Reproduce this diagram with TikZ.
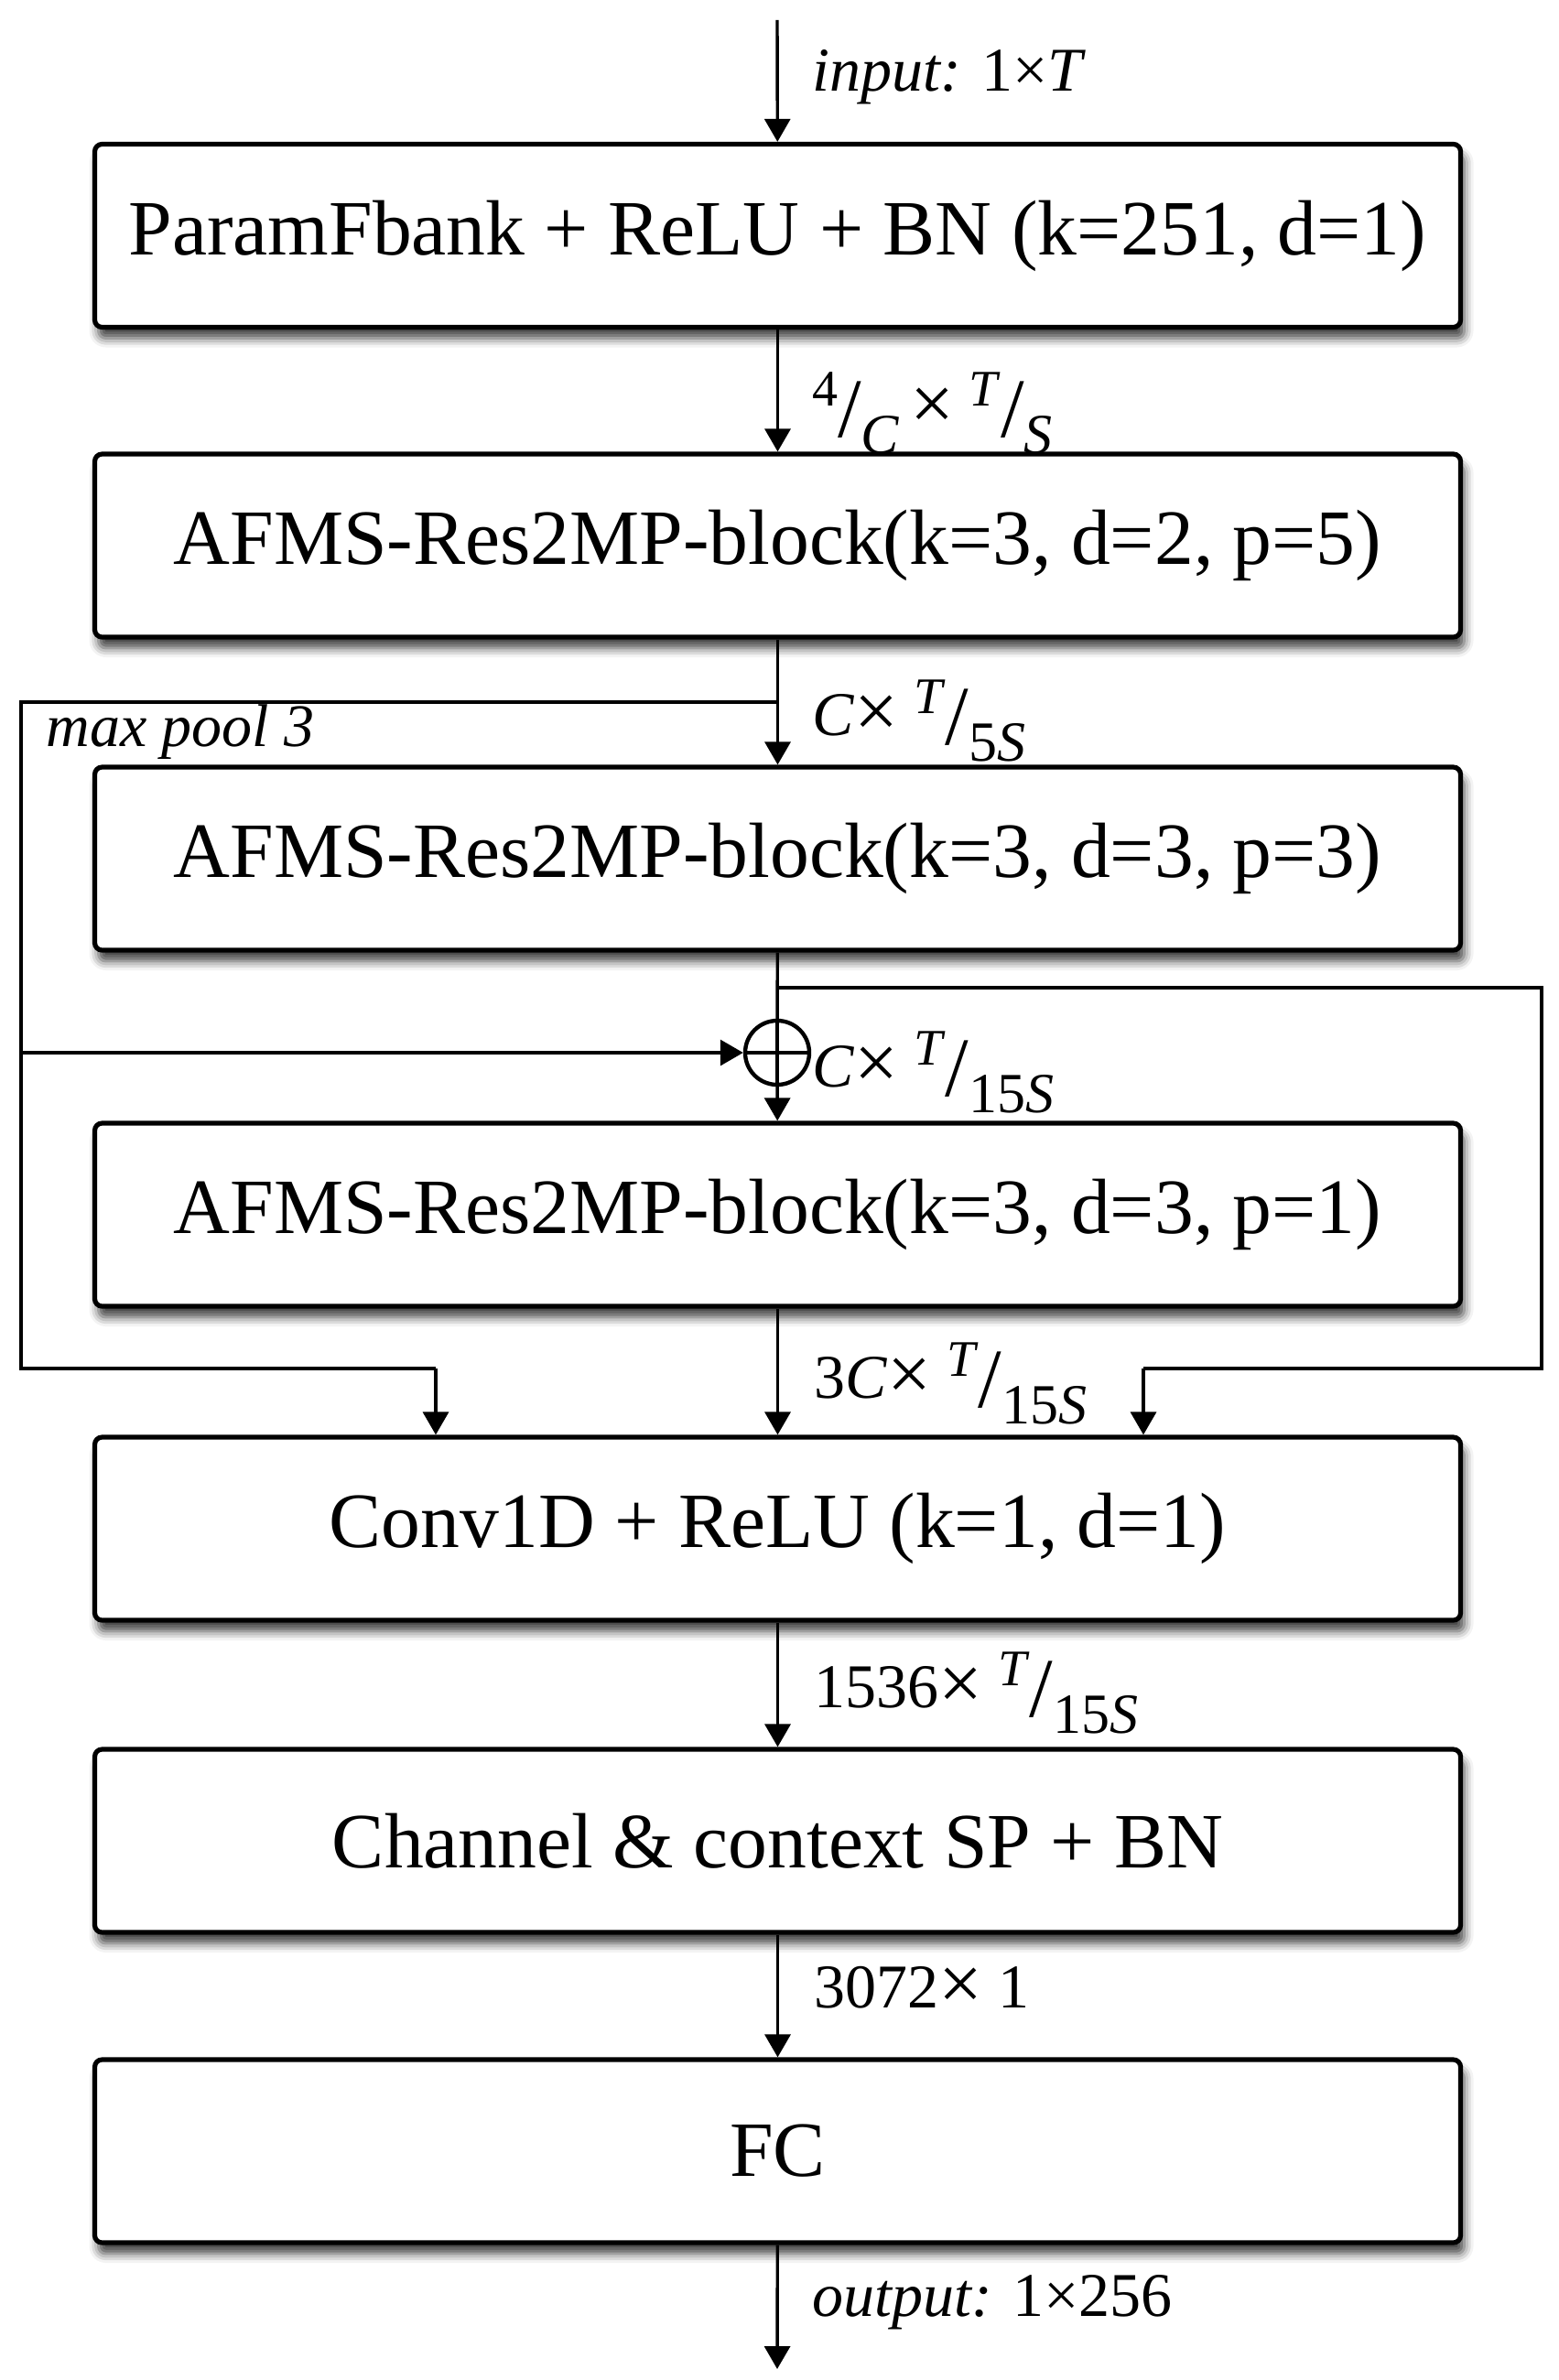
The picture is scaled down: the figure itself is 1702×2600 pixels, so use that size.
\documentclass[tikz,border=0pt]{standalone}
\usepackage{fontspec}
\setmainfont{Liberation Serif}
\usetikzlibrary{arrows.meta,shadows.blur,calc}
\newcommand\frsl[2]{\raisebox{12pt}{\fontsize{28}{30}\selectfont #1}\raisebox{-5pt}{\fontsize{46}{48}\selectfont /}\raisebox{-14pt}{\fontsize{31}{33}\selectfont #2}}
\newcommand\bigx{\raisebox{-1pt}{\scalebox{1.25}{×}}}
\begin{document}
\begin{tikzpicture}[x=0.5pt,y=-0.5pt,
  blk/.style={draw, line width=2.6pt, rounded corners=4pt, fill=white,
    minimum width=746pt, minimum height=100pt, inner sep=0pt,
    font=\fontsize{42.8}{48}\selectfont,
    blur shadow={shadow xshift=2pt, shadow yshift=-6pt, shadow blur radius=5pt, shadow opacity=75}},
  lbl/.style={anchor=base west, font=\fontsize{34}{38}\selectfont, inner sep=0pt},
  arr/.style={line width=1.7pt, -{Triangle[width=14pt,length=12.5pt]}},
  ln/.style={line width=1.7pt}]
\useasboundingbox (0,0) rectangle (1702,2600);

\node[blk] (b1) at (849.5,257.5) {ParamFbank + ReLU + BN (k=251, d=1)};
\node[blk] (b2) at (849.5,596) {AFMS-Res2MP-block(k=3, d=2, p=5)};
\node[blk] (b3) at (849.5,938) {AFMS-Res2MP-block(k=3, d=3, p=3)};
\node[blk] (b4) at (849.5,1327) {AFMS-Res2MP-block(k=3, d=3, p=1)};
\node[blk] (b5) at (849.5,1670) {Conv1D + ReLU (k=1, d=1)};
\node[blk] (b6) at (849.5,2011) {Channel \& context SP + BN};
\node[blk] (b7) at (849.5,2350) {FC};

\node[circle, draw, line width=2.2pt, minimum size=35pt, inner sep=0pt,
  path picture={\draw[line width=1.7pt] (path picture bounding box.north) -- (path picture bounding box.south)
   (path picture bounding box.west) -- (path picture bounding box.east);}] (plus) at (849,1150) {};

\coordinate (in) at (849,22);
\coordinate (out) at (849,2588);
\coordinate (mp) at (849,767);
\coordinate (L1) at (23,767);
\coordinate (L2) at (23,1495);
\coordinate (L3) at (476,1495);
\coordinate (rb) at (849,1079);
\coordinate (R1) at (1684,1079);
\coordinate (R2) at (1684,1495);
\coordinate (R3) at (1249,1495);

\draw[arr] (in) -- (b1);
\draw[arr] (b1) -- (b2);
\draw[arr] (b2) -- (b3);
\draw[ln] (b3) -- (plus);
\draw[arr] (plus) -- (b4);
\draw[arr] (b4) -- (b5);
\draw[arr] (b5) -- (b6);
\draw[arr] (b6) -- (b7);
\draw[arr] (b7) -- (out);

\draw[ln] (mp) -- (L1) -- (L2) -- (L3);
\draw[arr] (L3) -- (L3 |- b5.north);
\draw[arr] (L1 |- plus) -- (plus.west);
\draw[ln] (rb) -- (R1) -- (R2) -- (R3);
\draw[arr] (R3) -- (R3 |- b5.north);

\node[lbl] (t0) at (887,100) {\textit{input:} 1×\textit{T}};
\node[lbl] (t1) at (887,467) {\frsl{4}{\textit{C}}\hspace{6pt}\bigx\hspace{8pt}\frsl{\textit{T}}{\textit{S}}};
\node[lbl] (t2) at (887,803) {\textit{C}\bigx\ \frsl{\textit{T}}{5\textit{S}}};
\node[lbl] (t3) at (887,1187) {\textit{C}\bigx\ \frsl{\textit{T}}{15\textit{S}}};
\node[lbl] (t4) at (889,1527) {3\textit{C}\bigx\ \frsl{\textit{T}}{15\textit{S}}};
\node[lbl] (t5) at (889,1865) {1536\bigx\ \frsl{\textit{T}}{15\textit{S}}};
\node[lbl] (t6) at (889,2193) {3072\bigx\ 1};
\node[lbl] (t7) at (887,2530) {\textit{output:} 1×256};
\node[lbl, font=\fontsize{33}{36}\selectfont\itshape] (mpl) at (50,815) {max pool 3};
\end{tikzpicture}
\end{document}
